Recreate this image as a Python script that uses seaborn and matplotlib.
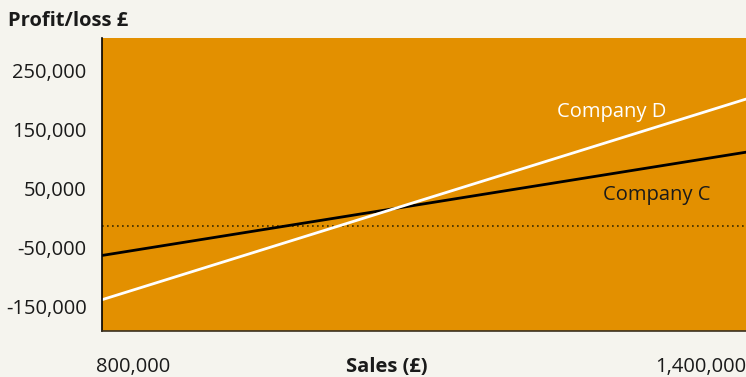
import matplotlib
matplotlib.use("Agg")
import matplotlib.pyplot as plt
import matplotlib.transforms as mtrans
import seaborn as sns
import pandas as pd

sales = [800000, 1400000]
company_c = [-50000, 125000]
company_d = [-125000, 215000]
y_ticks = [250000, 150000, 50000, -50000, -150000]
x_ticks = [800000, 1400000]

BG = "#f5f4ee"
ORANGE = "#e39000"
FS = 14.5

sns.set_theme(style="white")
plt.rcParams['font.family'] = ['Open Sans', 'DejaVu Sans']

df = pd.DataFrame({
    "Sales": sales * 2,
    "Profit": company_c + company_d,
    "Company": ["Company C"] * 2 + ["Company D"] * 2,
})

fig = plt.figure(figsize=(7.46, 3.77), dpi=100, facecolor=BG)
ax = fig.add_axes([102 / 746, 1 - 330.7 / 377, 644 / 746, (330.7 - 38.3) / 377])
ax.set_facecolor(ORANGE)

sns.lineplot(data=df, x="Sales", y="Profit", hue="Company",
             palette={"Company C": "black", "Company D": "white"},
             linewidth=2.0, legend=False, ax=ax)

ax.axhline(0, color="#3a2a00", linestyle=(0, (1, 2)), linewidth=1.2, zorder=1)

ax.set_xlim(800000, 1400000)
ax.set_ylim(-177500, 318000)

for s in ["top", "right"]:
    ax.spines[s].set_visible(False)
ax.spines["left"].set_color("black")
ax.spines["left"].set_linewidth(1.2)
ax.spines["bottom"].set_color("#3a3020")
ax.spines["bottom"].set_linewidth(1.2)

ax.set_yticks(y_ticks)
ax.set_yticklabels([f"{v:,}" for v in y_ticks], fontsize=FS, color="#1a1a1a")
for lab in ax.get_yticklabels():
    lab.set_verticalalignment("baseline")
ax.tick_params(axis="y", length=0, pad=11)

ax.set_xticks(x_ticks)
ax.set_xticklabels([f"{v:,}" for v in x_ticks], fontsize=FS, color="#1a1a1a")
ax.tick_params(axis="x", length=0, pad=19)
xl = ax.get_xticklabels()
xl[0].set_horizontalalignment("left")
xl[0].set_transform(xl[0].get_transform() + mtrans.ScaledTranslation(-6 / 100, 0, fig.dpi_scale_trans))
xl[-1].set_horizontalalignment("right")

ax.set_xlabel("")
ax.set_ylabel("")
fig.text(387 / 746, 1 - 372 / 377, "Sales (£)", fontsize=FS, fontweight="bold",
         color="#1a1a1a", ha="center", va="baseline")

fig.text(8 / 746, 1 - 26 / 377, "Profit/loss £", fontsize=FS, fontweight="bold",
         color="#1a1a1a", ha="left", va="baseline")

ax.text(1224000, 184700, "Company D", color="white", fontsize=FS, va="baseline", ha="left")
ax.text(1266800, 44000, "Company C", color="#1a1a1a", fontsize=FS, va="baseline", ha="left")

fig.savefig("out.png", dpi=100, facecolor=BG)
